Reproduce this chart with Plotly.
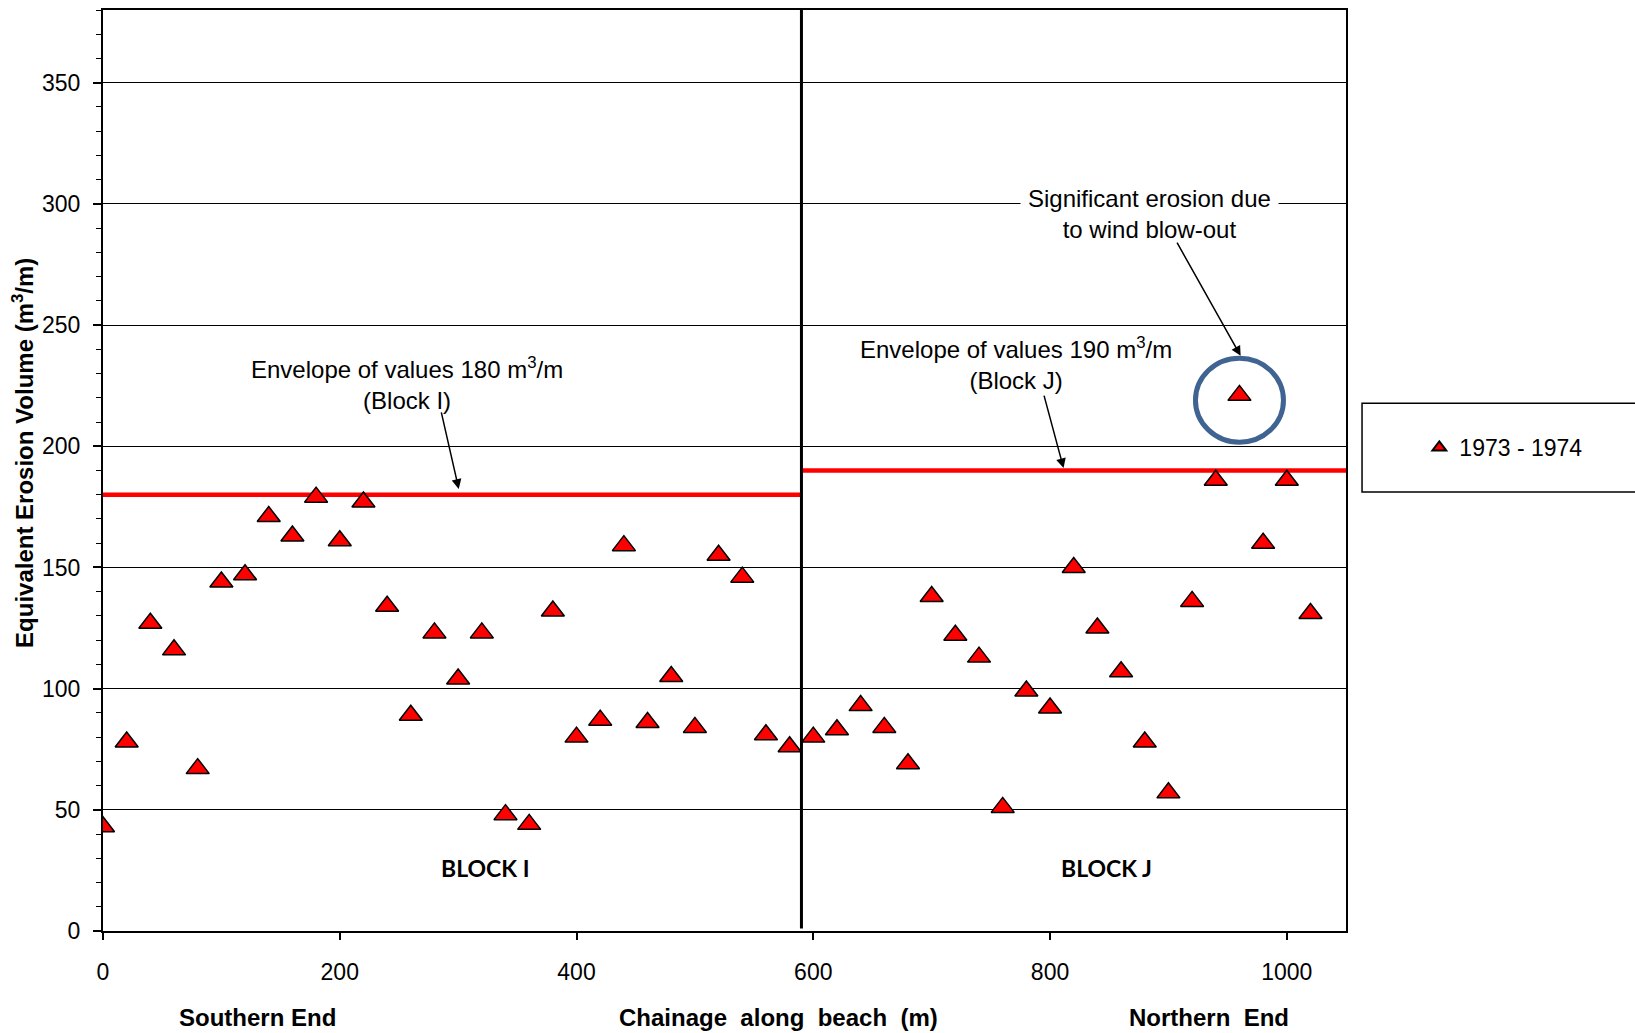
import plotly.graph_objects as go

# ---- data ----
chainage = list(range(0, 1040, 20))
volumes = [43, 78, 127, 116, 67, 144, 147, 171, 163, 179,
           161, 177, 134, 89, 123, 104, 123, 48, 44, 132,
           80, 87, 159, 86, 105, 84, 155, 146, 81, 76,
           80, 83, 93, 84, 69, 138, 122, 113, 51, 99,
           92, 150, 125, 107, 78, 57, 136, 186, 221, 160,
           186, 131]
series_name = "1973 - 1974"
block_boundary = 590
envelope_I_x = [0, 590]
envelope_I_y = [180, 180]
envelope_J_x = [590, 1050]
envelope_J_y = [190, 190]
divider_y = [1, 380]
x_ticks = [0, 200, 400, 600, 800, 1000]
y_ticks = [0, 50, 100, 150, 200, 250, 300, 350]
outlier_index = 48

FONT = "Arial"
fig = go.Figure()

fig.add_trace(go.Scatter(x=envelope_I_x, y=envelope_I_y, mode="lines",
                         line=dict(color="#FF0000", width=4.5), showlegend=False, hoverinfo="skip"))
fig.add_trace(go.Scatter(x=envelope_J_x, y=envelope_J_y, mode="lines",
                         line=dict(color="#FF0000", width=4.5), showlegend=False, hoverinfo="skip"))
fig.add_trace(go.Scatter(x=[block_boundary, block_boundary], y=divider_y, mode="lines",
                         line=dict(color="black", width=3), showlegend=False, hoverinfo="skip"))
fig.add_trace(go.Scatter(x=chainage, y=volumes, mode="markers", name=series_name,
                         marker=dict(symbol="triangle-up", size=20, color="#FF0000",
                                     line=dict(color="black", width=1.5))))

# circle around outlier
fig.add_shape(type="circle", xref="x", yref="y", xsizemode="pixel", ysizemode="pixel",
              xanchor=chainage[outlier_index], yanchor=volumes[outlier_index] - 2,
              x0=-44, x1=44, y0=-42, y1=42,
              line=dict(color="#3F6491", width=5), layer="above")

# legend box
fig.add_shape(type="rect", xref="paper", yref="paper", x0=1.0129, x1=1.26, y0=0.4767, y1=0.573,
              line=dict(color="black", width=1.5), fillcolor="rgba(0,0,0,0)")

ann = []
def txt(x, y, t, size=24, bold=False, family=FONT, **kw):
    d = dict(x=x, y=y, text=t, showarrow=False, xanchor="center", yanchor="middle",
             font=dict(family=family, size=size, color="black", weight="bold" if bold else "normal"))
    d.update(kw)
    ann.append(d)

def arrow(x, y, ax, ay):
    ann.append(dict(x=x, y=y, ax=ax, ay=ay, axref="x", ayref="y", xref="x", yref="y",
                    text="", showarrow=True, arrowhead=2, arrowsize=1.3, arrowwidth=1.5,
                    arrowcolor="black"))

txt(257, 226, "Envelope of values 180 m<sup>3</sup>/m<br>(Block I)")
arrow(300.5, 182.4, 285.5, 214.6)
txt(771, 234, "Envelope of values 190 m<sup>3</sup>/m<br>(Block J)")
arrow(811.4, 191, 794.6, 221.5)
txt(884, 296, "Significant erosion due<br>to wind blow-out", bgcolor="white", borderpad=7)
arrow(961, 237.3, 906.6, 284.6)
txt(323, 26, "BLOCK I", size=23, bold=True, family="Lato")
txt(848, 26, "BLOCK J", size=23, bold=True, family="Lato")

for a in ann:
    a.setdefault("xref", "x")
    a.setdefault("yref", "y")

ann.append(dict(xref="paper", yref="paper", x=-0.0644, y=0.519, textangle=-90, showarrow=False,
                xanchor="center", yanchor="middle",
                text="Equivalent Erosion Volume (m<sup>3</sup>/m)",
                font=dict(family=FONT, size=24, color="black", weight="bold")))
for xx, t in [(0.1244, "Southern End"), (0.5438, "Chainage  along  beach  (m)"), (0.890, "Northern  End")]:
    ann.append(dict(xref="paper", yref="paper", x=xx, y=-0.0943, text=t, showarrow=False,
                    xanchor="center", yanchor="middle",
                    font=dict(family=FONT, size=24, color="black", weight="bold")))

fig.update_layout(
    width=1635, height=1033,
    margin=dict(l=103, r=289, t=8, b=102),
    paper_bgcolor="white", plot_bgcolor="white",
    font=dict(family=FONT, size=23, color="black"),
    annotations=ann,
    showlegend=True,
    legend=dict(x=1.059, y=0.525, xanchor="left", yanchor="middle",
                bgcolor="rgba(0,0,0,0)", borderwidth=0, itemsizing="constant",
                font=dict(family=FONT, size=23, color="black")),
    xaxis=dict(range=[0, 1050], tickvals=x_ticks, showgrid=False, zeroline=False,
               showline=True, linecolor="black", linewidth=2, mirror=True,
               ticks="outside", ticklen=7, tickwidth=1.5, tickcolor="black",
               ticklabelstandoff=12, tickfont=dict(family=FONT, size=23, color="black")),
    yaxis=dict(range=[0, 380], tickvals=y_ticks, showgrid=True, gridcolor="black", gridwidth=1.2,
               zeroline=False, showline=True, linecolor="black", linewidth=2, mirror=True,
               ticks="outside", ticklen=8, tickwidth=1.5, tickcolor="black",
               minor=dict(dtick=10, ticks="outside", ticklen=5, tickcolor="black", tickwidth=1.2, showgrid=False),
               ticklabelstandoff=8, tickfont=dict(family=FONT, size=23, color="black")),
)

fig.write_html("out.html")
